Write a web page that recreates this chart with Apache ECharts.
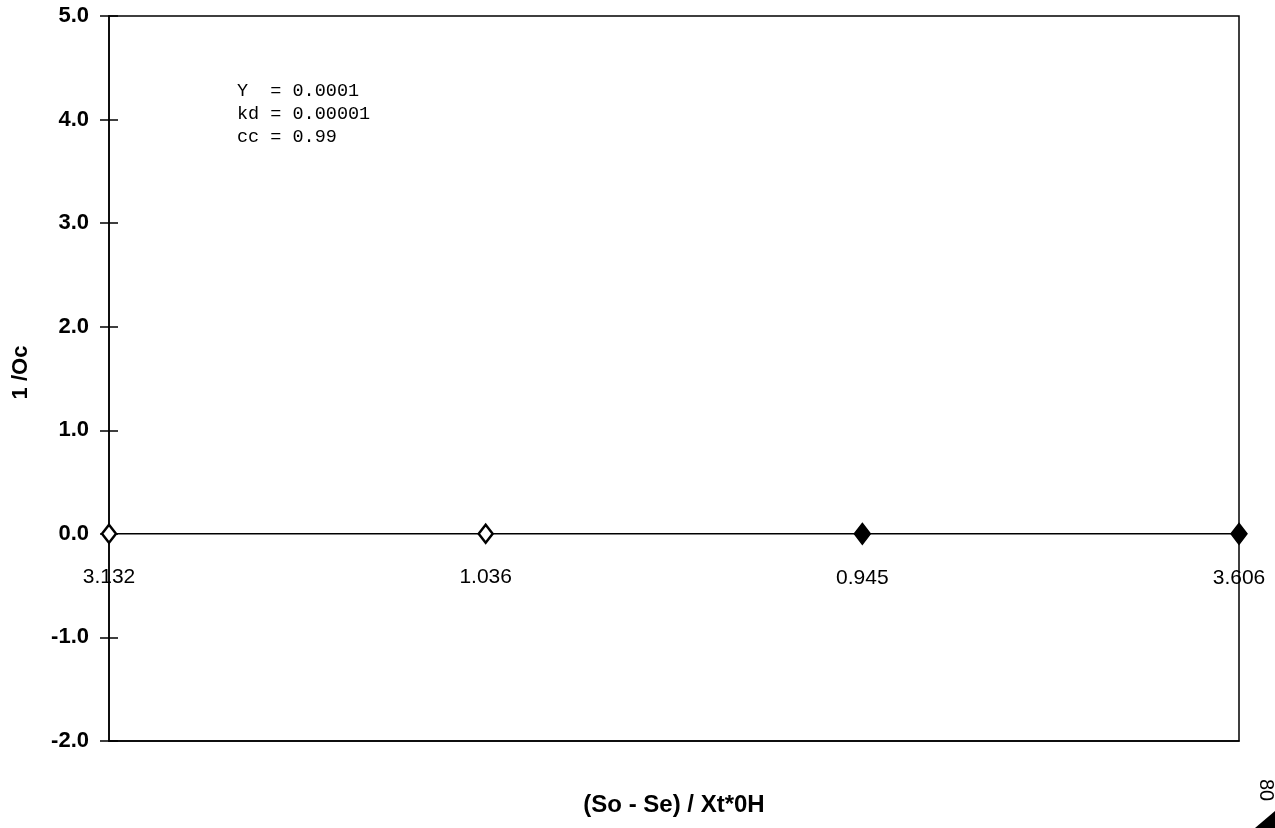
<!DOCTYPE html>
<html>
<head>
<meta charset="utf-8">
<title>1/Oc vs (So - Se) / Xt*0H</title>
<script src="https://cdn.jsdelivr.net/npm/echarts@6/dist/echarts.min.js"></script>
<style>
  html, body { margin: 0; padding: 0; background: #ffffff; }
  #chart { width: 1275px; height: 828px; }
</style>
</head>
<body>
<div id="chart"></div>
<script>
// Category labels, written under each point on the zero line
const categories = ['3.132', '1.036', '0.945', '3.606'];
// Plotted values of 1/Oc
const values = [0, 0, 0, 0];
// Which markers are drawn solid
const filledMarkers = [false, false, true, true];
// Y axis range and step
const yRange = [-2, 5];
const yStep = 1;
// Fitted constants shown inside the plot
const constants = ['Y  = 0.0001', 'kd = 0.00001', 'cc = 0.99'];
// Axis titles and page number
const yTitle = '1 /Oc';
const xTitle = '(So - Se) / Xt*0H';
const pageNumber = '80';

const chart = echarts.init(document.getElementById('chart'), null, { renderer: 'canvas' });

const points = values.map((v, i) => ({
  value: v,
  symbolSize: filledMarkers[i] ? [16, 21] : [14, 18],
  itemStyle: filledMarkers[i]
    ? { color: '#000', borderColor: '#000', borderWidth: 1.5 }
    : { color: '#fff', borderColor: '#000', borderWidth: 2.5 }
}));

const gridBox = { left: 109, right: 36, top: 16, bottom: 87, containLabel: false, outerBoundsMode: 'none' };

const option = {
  backgroundColor: '#ffffff',
  animation: false,
  grid: [
    Object.assign({ show: true, borderColor: '#000', borderWidth: 1.5, backgroundColor: 'transparent' }, gridBox),
    // overlay grid carrying the inner half of the y ticks
    Object.assign({ show: false }, gridBox)
  ],
  xAxis: [
    {
      gridIndex: 0,
      type: 'category',
      data: categories,
      boundaryGap: false,
      axisLine: { show: true, onZero: false, lineStyle: { color: '#000', width: 1.5 } },
      axisTick: { show: false },
      splitLine: { show: false },
      axisLabel: { show: false },
      name: xTitle,
      nameLocation: 'middle',
      nameGap: 52,
      nameTextStyle: { color: '#000', fontFamily: 'Liberation Sans', fontSize: 24, fontWeight: 'bold' }
    },
    {
      gridIndex: 1,
      type: 'category',
      data: categories,
      boundaryGap: false,
      show: false
    }
  ],
  yAxis: [
    {
      gridIndex: 0,
      type: 'value',
      min: yRange[0], max: yRange[1], interval: yStep,
      axisLine: { show: true, onZero: false, lineStyle: { color: '#000', width: 1.5 } },
      axisTick: { show: true, inside: false, length: 9, lineStyle: { color: '#000', width: 1.5 } },
      splitLine: { show: false },
      axisLabel: {
        color: '#000', fontFamily: 'Liberation Sans', fontSize: 22, fontWeight: 'bold', margin: 20,
        formatter: v => v.toFixed(1)
      },
      name: yTitle,
      nameLocation: 'middle',
      nameGap: 77,
      nameRotate: 90,
      nameTextStyle: { color: '#000', fontFamily: 'Liberation Sans', fontSize: 22, fontWeight: 'bold', padding: [0, 0, 0, 12] }
    },
    {
      gridIndex: 1,
      type: 'value',
      position: 'left',
      min: yRange[0], max: yRange[1], interval: yStep,
      axisLine: { show: false, onZero: false },
      axisTick: { show: true, inside: true, length: 9, lineStyle: { color: '#000', width: 1.5 } },
      axisLabel: { show: false },
      splitLine: { show: false }
    }
  ],
  series: [
    {
      type: 'line',
      xAxisIndex: 0,
      yAxisIndex: 0,
      data: points,
      symbol: 'diamond',
      showAllSymbol: true,
      lineStyle: { color: '#000', width: 1.5 },
      label: {
        show: true,
        position: 'bottom',
        distance: 22,
        formatter: p => categories[p.dataIndex],
        color: '#000',
        fontFamily: 'Liberation Sans',
        fontSize: 21
      },
      z: 5
    }
  ],
  graphic: [
    {
      type: 'group',
      left: 237,
      top: 82,
      children: constants.map((t, i) => ({
        type: 'text',
        x: 0,
        y: i * 23,
        style: {
          text: t,
          fill: '#000',
          font: '18.5px "Liberation Mono", "DejaVu Sans Mono", monospace'
        }
      }))
    },
    {
      type: 'text',
      x: 1256,
      y: 779,
      rotation: -Math.PI / 2,
      originX: 0,
      originY: 0,
      style: { text: pageNumber, fill: '#000', font: '20px "Liberation Sans", sans-serif', align: 'left', verticalAlign: 'bottom' }
    },
    {
      type: 'polygon',
      shape: { points: [[1255, 828], [1275, 811], [1275, 828]] },
      style: { fill: '#000' }
    }
  ]
};

chart.setOption(option);
</script>
</body>
</html>
